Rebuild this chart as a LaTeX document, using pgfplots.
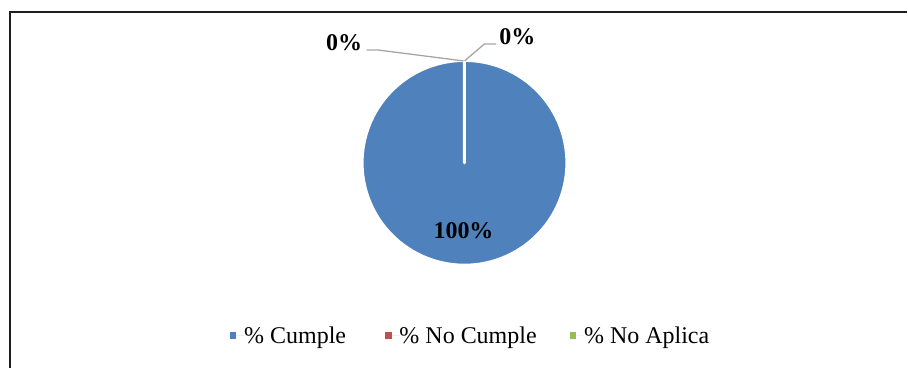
\documentclass[border=0pt]{standalone}
\usepackage{pgfplots}
\pgfplotsset{compat=1.18}
\usepackage{pgfplotstable}
\usepackage{fontspec}
\setmainfont{Liberation Serif}

\definecolor{cumple}{HTML}{4F81BD}
\definecolor{nocumple}{HTML}{C0504D}
\definecolor{noaplica}{HTML}{9BBB59}
\definecolor{leader}{HTML}{A6A6A6}
\definecolor{frame}{HTML}{1E1E1E}

% share of each category, in percent
\pgfplotstableread{
cat       value
Cumple    100
NoCumple  0
NoAplica  0
}\piedata

\newcommand{\chartfont}{\fontsize{24bp}{28bp}\selectfont}

\begin{document}
\begin{tikzpicture}
\pgfplotstablegetelem{0}{value}\of\piedata \pgfmathtruncatemacro{\vA}{\pgfplotsretval}
\pgfplotstablegetelem{1}{value}\of\piedata \pgfmathtruncatemacro{\vB}{\pgfplotsretval}
\pgfplotstablegetelem{2}{value}\of\piedata \pgfmathtruncatemacro{\vC}{\pgfplotsretval}
% slices start at twelve o'clock and run clockwise
\pgfmathsetmacro{\aEnd}{90-3.6*\vA}
\begin{axis}[
  scale only axis, width=908bp, height=368bp,
  xmin=0, xmax=908, ymin=0, ymax=368,
  hide axis, clip=false,
  legend columns=3,
  legend style={at={(axis cs:470,32)}, anchor=center, draw=none, fill=none,
    font=\chartfont, nodes={inner xsep=0bp},
    /tikz/column 2/.style={column sep=39bp},
    /tikz/column 4/.style={column sep=33bp}},
  legend image code/.code={%
    \fill[#1] (0bp,-3.4bp) rectangle (6.8bp,3.4bp);
    \path (0bp,0bp) -- (14.5bp,0bp);},
]
\addlegendimage{draw=none, fill=cumple}
\addlegendentry{\% Cumple}
\addlegendimage{draw=none, fill=nocumple}
\addlegendentry{\% No Cumple}
\addlegendimage{draw=none, fill=noaplica}
\addlegendentry{\% No Aplica}

% the "Cumple" slice (white slice border)
\addplot[fill=cumple, draw=white, line width=3bp, line join=round,
  domain=90:\aEnd, samples=241, forget plot]
  ({465+102.5*cos(x)}, {205+102.5*sin(x)}) -- (axis cs:465,205) -- cycle;

% leader lines for the empty slices
\draw[leader, line width=1.3bp] (axis cs:367,318) -- (axis cs:378,318) -- (axis cs:464,307);
\draw[leader, line width=1.3bp] (axis cs:465,307) -- (axis cs:485,324) -- (axis cs:497,324);

% data labels
\node[font=\chartfont\bfseries] at (axis cs:464,137) {\vA\%};
\node[font=\chartfont\bfseries] at (axis cs:344.5,325) {\vB\%};
\node[font=\chartfont\bfseries] at (axis cs:518,331) {\vC\%};

% chart area border
\draw[frame, line width=2bp] (axis cs:10,0) -- (axis cs:10,355.5) -- (axis cs:908,355.5);

% page extent
\path (axis cs:0,0) rectangle (axis cs:908,368);
\end{axis}
\end{tikzpicture}
\end{document}
